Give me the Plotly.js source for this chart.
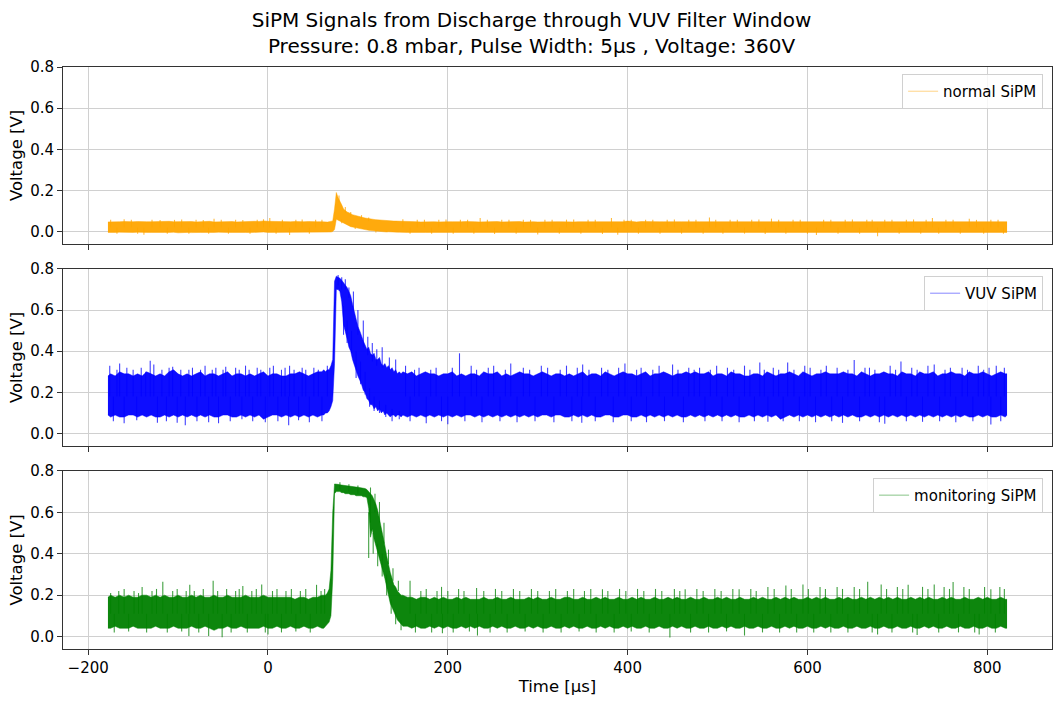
<!DOCTYPE html>
<html>
<head>
<meta charset="utf-8">
<script src="https://cdn.plot.ly/plotly-3.0.1.min.js"></script>
<style>
  html, body { margin: 0; padding: 0; background: #fff; }
  #plot { width: 1063px; height: 703px; }
</style>
</head>
<body>
<div id="plot"></div>
<script>
// sample times in microseconds (denser around the discharge pulse)
const timeUs = [
  -178,-175,-170,-165,-160,-155,-150,-145,-140,-135,
  -130,-125,-120,-115,-110,-105,-100,-95,-90,-85,
  -80,-75,-70,-65,-60,-55,-50,-45,-40,-35,
  -30,-25,-20,-15,-10,-5,0,5,10,15,
  20,25,30,35,40,45,50,55,60,62,
  64,66,68,70,72,74,76,78,80,82,
  84,86,88,90,92,94,96,98,100,102,
  104,106,108,110,112,114,116,118,120,122,
  124,126,128,130,132,134,136,138,140,142,
  144,146,148,150,155,160,165,170,175,180,
  185,190,195,200,205,210,215,220,225,230,
  235,240,245,250,255,260,265,270,275,280,
  285,290,295,300,305,310,315,320,325,330,
  335,340,345,350,355,360,365,370,375,380,
  385,390,395,400,405,410,415,420,425,430,
  435,440,445,450,455,460,465,470,475,480,
  485,490,495,500,505,510,515,520,525,530,
  535,540,545,550,555,560,565,570,575,580,
  585,590,595,600,605,610,615,620,625,630,
  635,640,645,650,655,660,665,670,675,680,
  685,690,695,700,705,710,715,720,725,730,
  735,740,745,750,755,760,765,770,775,780,
  785,790,795,800,805,810,815,820,822
];

// normal SiPM: upper / lower edge of the dense noise band [V]
const normalHi = [
  .047,.048,.046,.048,.049,.047,.048,.049,.047,.048,
  .048,.049,.047,.048,.05,.048,.049,.047,.048,.049,
  .047,.048,.048,.05,.047,.048,.049,.048,.049,.047,
  .048,.05,.048,.05,.049,.052,.05,.049,.048,.049,
  .047,.048,.049,.047,.048,.049,.047,.048,.048,.047,
  .047,.046,.048,.05,.052,.11,.19,.165,.15,.13,
  .11,.1,.095,.092,.086,.082,.08,.077,.074,.072,
  .07,.068,.066,.064,.062,.061,.06,.059,.058,.057,
  .056,.055,.055,.054,.053,.053,.052,.052,.051,.051,
  .051,.05,.05,.049,.048,.049,.048,.047,.048,.047,
  .048,.047,.049,.048,.048,.047,.048,.049,.047,.048,
  .047,.048,.048,.047,.049,.047,.048,.048,.047,.049,
  .046,.048,.048,.047,.048,.047,.049,.048,.048,.047,
  .048,.047,.048,.048,.047,.049,.048,.048,.047,.048,
  .048,.05,.048,.051,.048,.047,.049,.048,.047,.048,
  .048,.048,.049,.047,.048,.048,.047,.049,.048,.048,
  .048,.048,.047,.049,.048,.048,.049,.047,.048,.048,
  .047,.048,.048,.049,.048,.047,.048,.048,.049,.048,
  .048,.047,.048,.048,.049,.048,.048,.047,.049,.048,
  .048,.048,.048,.047,.049,.048,.047,.048,.048,.048,
  .048,.048,.049,.048,.048,.047,.049,.048,.048,.048,
  .048,.047,.048,.048,.049,.048,.048,.049,.047,.048,
  .048,.049,.048,.048,.048,.047,.049,.048,.048
];
const normalLo = [
  -.004,-.005,-.004,-.003,-.004,-.005,-.004,-.003,-.005,-.004,
  -.004,-.003,-.005,-.004,-.004,-.003,-.006,-.004,-.004,-.005,
  -.003,-.004,-.004,-.005,-.004,-.003,-.005,-.004,-.004,-.003,
  -.004,-.004,-.005,-.003,-.004,-.002,-.004,-.004,-.005,-.003,
  -.004,-.005,-.004,-.004,-.003,-.005,-.004,-.004,-.004,-.004,
  -.003,-.004,-.004,-.002,0,.01,.06,.055,.05,.045,
  .04,.035,.03,.027,.024,.022,.02,.017,.015,.013,
  .012,.01,.008,.007,.006,.005,.004,.003,.002,.001,
  0,.001,-.001,0,-.002,-.001,-.002,-.002,-.003,-.003,
  -.003,-.003,-.004,-.003,-.004,-.004,-.003,-.005,-.004,-.004,
  -.004,-.003,-.005,-.004,-.004,-.003,-.005,-.004,-.004,-.005,
  -.004,-.004,-.003,-.005,-.004,-.004,-.005,-.003,-.004,-.004,
  -.005,-.004,-.004,-.003,-.005,-.004,-.004,-.004,-.003,-.005,
  -.004,-.003,-.004,-.004,-.005,-.004,-.003,-.005,-.004,-.004,
  -.004,-.005,-.004,-.003,-.004,-.006,-.004,-.004,-.003,-.004,
  -.004,-.004,-.005,-.003,-.004,-.004,-.005,-.004,-.003,-.004,
  -.004,-.004,-.003,-.005,-.004,-.004,-.004,-.003,-.005,-.004,
  -.004,-.004,-.004,-.003,-.005,-.004,-.004,-.004,-.003,-.005,
  -.004,-.004,-.003,-.004,-.005,-.004,-.004,-.003,-.004,-.004,
  -.005,-.004,-.004,-.003,-.004,-.004,-.005,-.004,-.003,-.004,
  -.004,-.004,-.003,-.005,-.004,-.004,-.004,-.003,-.004,-.005,
  -.004,-.003,-.004,-.004,-.005,-.004,-.003,-.004,-.004,-.004,
  -.004,-.004,-.005,-.003,-.004,-.004,-.004,-.003,-.004
];
// isolated noise spikes poking out of the baseline band: [time, voltage]
const normalSpikes = [
  [-175,.058],[-168,-.01],[-160,.06],[-152,.057],[-145,-.011],[-138,-.015],[-129,.058],[-120,.056],
  [-112,-.01],[-104,.057],[-96,.059],[-88,-.011],[-80,.057],[-72,.056],[-66,-.01],[-60,.062],
  [-52,.057],[-44,-.01],[-36,.058],[-28,.056],[-20,-.011],[-12,.058],[-5,.06],[2,.066],[9,-.01],
  [16,.058],[24,-.016],[31,.057],[38,.059],[46,-.01],[53,.057],[60,.058],
  [150,.06],[158,-.011],[166,.057],[174,.058],[182,-.01],[190,.057],[198,.059],[206,-.011],
  [214,.057],[222,.058],[229,-.01],[236,.066],[244,.057],[252,-.012],[260,.058],[268,.057],
  [276,-.01],[284,.058],[292,.057],[300,-.014],[308,.058],[316,.057],[324,-.011],[332,.058],
  [340,.059],[348,-.01],[356,.057],[364,.058],[372,-.012],[382,.066],[389,-.015],[396,.058],
  [404,.057],[412,-.011],[420,.058],[428,.057],[436,-.01],[444,.058],[452,.059],[460,-.011],
  [468,.057],[476,.058],[484,-.01],[491,.069],[498,.058],[506,-.011],[514,.057],[522,.058],
  [530,-.01],[538,.057],[546,.059],[553,-.012],[560,.063],[568,.057],[576,-.01],[584,.058],
  [592,.057],[600,-.011],[610,-.016],[618,.058],[626,.057],[634,-.01],[642,.058],[650,.059],
  [658,-.011],[666,.057],[672,.058],[678,-.023],[686,.057],[694,.058],[702,-.01],[710,.057],
  [718,.059],[726,-.011],[732,.058],[739,.066],[746,-.01],[754,.057],[762,.058],[770,-.011],
  [780,.062],[788,.057],[796,-.01],[804,.058],[812,.057],[818,-.011]
];
const normalBase = 0.02;
// spikes on the pulse itself: [time, from, to]
const normalPulseSpikes = [
  [79,.14,.175],[82,.06,.04],[86,.09,.12],[92,.07,.095],[97,.03,.012],[104,.06,.08],
  [112,.05,.068],[120,.005,-.005]
];

// VUV SiPM
const vuvHi = [
  .28,.29,.28,.30,.29,.29,.28,.29,.28,.30,
  .29,.28,.29,.28,.30,.31,.29,.28,.29,.28,
  .29,.30,.28,.29,.29,.28,.29,.30,.28,.29,
  .29,.28,.29,.28,.29,.30,.28,.29,.29,.28,
  .28,.29,.29,.30,.29,.28,.29,.30,.30,.31,
  .30,.31,.31,.33,.36,.74,.765,.76,.755,.745,
  .735,.72,.71,.69,.67,.63,.59,.55,.52,.50,
  .47,.45,.43,.41,.42,.39,.38,.39,.36,.36,
  .37,.34,.33,.34,.32,.33,.31,.32,.30,.31,
  .29,.30,.29,.30,.29,.30,.28,.29,.30,.29,
  .29,.28,.29,.29,.30,.28,.29,.28,.29,.29,
  .28,.30,.29,.29,.30,.28,.29,.28,.29,.30,
  .29,.29,.28,.29,.30,.29,.28,.29,.29,.28,
  .29,.28,.29,.30,.28,.29,.29,.28,.30,.29,
  .28,.29,.30,.29,.29,.28,.29,.30,.28,.29,
  .29,.30,.29,.28,.29,.29,.30,.29,.30,.29,
  .29,.30,.28,.29,.29,.28,.30,.29,.29,.28,
  .28,.29,.29,.28,.30,.29,.28,.29,.29,.30,
  .29,.28,.30,.29,.28,.29,.29,.30,.29,.29,
  .29,.30,.29,.29,.28,.30,.29,.28,.29,.29,
  .30,.29,.29,.28,.30,.29,.29,.28,.30,.29,
  .29,.30,.28,.29,.29,.30,.29,.29,.28,.30,
  .29,.29,.30,.29,.28,.29,.30,.29,.29
];
const vuvLo = [
  .09,.08,.09,.08,.08,.09,.09,.08,.09,.08,
  .09,.08,.08,.09,.08,.09,.08,.09,.08,.09,
  .08,.09,.08,.09,.08,.08,.09,.09,.08,.08,
  .09,.08,.09,.08,.09,.07,.08,.09,.09,.08,
  .09,.08,.09,.08,.09,.08,.09,.08,.09,.09,
  .10,.10,.11,.13,.16,.34,.70,.70,.69,.64,
  .53,.50,.46,.42,.40,.36,.33,.30,.28,.26,
  .24,.21,.20,.17,.16,.14,.14,.12,.13,.11,
  .12,.10,.11,.09,.10,.09,.08,.09,.09,.08,
  .09,.09,.08,.09,.08,.09,.08,.09,.08,.09,
  .08,.09,.08,.09,.08,.09,.08,.09,.09,.08,
  .09,.08,.09,.08,.09,.08,.09,.08,.09,.08,
  .09,.08,.09,.08,.09,.09,.08,.09,.09,.08,
  .08,.09,.08,.09,.08,.09,.08,.08,.09,.09,
  .08,.08,.09,.09,.08,.08,.09,.08,.09,.08,
  .09,.08,.09,.08,.09,.08,.08,.09,.08,.09,
  .08,.09,.08,.09,.08,.09,.08,.09,.08,.08,
  .09,.08,.09,.08,.09,.08,.09,.07,.08,.09,
  .08,.09,.08,.09,.08,.09,.08,.09,.08,.09,
  .08,.09,.08,.09,.08,.08,.09,.08,.09,.08,
  .09,.08,.09,.08,.09,.08,.09,.08,.09,.08,
  .09,.08,.09,.08,.09,.08,.09,.08,.09,.08,
  .08,.09,.08,.09,.08,.08,.09,.08,.09
];
const vuvSpikes = [
  [-176,.33],[-172,.06],[-168,.31],[-165,.34],[-160,.05],[-157,.32],[-150,.31],[-146,.065],
  [-141,.32],[-136,.30],[-131,.354],[-127,.335],[-123,.053],[-118,.31],[-113,.06],[-110,.32],
  [-106,.325],[-101,.053],[-97,.31],[-92,.04],[-88,.31],[-84,.32],[-79,.06],[-75,.31],[-70,.33],
  [-66,.055],[-62,.31],[-58,.32],[-55,.05],[-50,.31],[-47,.325],[-42,.06],[-36,.32],[-32,.31],
  [-29,.07],[-25,.33],[-21,.31],[-17,.06],[-12,.32],[-8,.31],[-3,.055],[2,.32],[6,.33],[11,.06],
  [15,.31],[19,.32],[23,.04],[24,.33],[29,.31],[34,.065],[38,.32],[42,.31],[46,.055],[51,.32],
  [56,.31],[60,.06],[66,.33],
  [153,.33],[158,.06],[163,.31],[168,.32],[176,.05],[181,.31],[187,.32],[193,.06],[200,.045],
  [205,.32],[213,.39],[219,.06],[226,.33],[232,.31],[238,.055],[245,.32],[251,.33],[258,.06],
  [264,.31],[270,.34],[277,.055],[284,.32],[291,.31],[297,.06],[304,.33],[311,.32],[318,.055],
  [325,.31],[332,.33],[338,.06],[344,.32],[349,.052],[350,.335],[357,.31],[364,.06],[371,.32],
  [378,.31],[384,.055],[390,.32],[397,.34],[404,.06],[410,.31],[415,.32],[421,.055],[428,.31],
  [435,.33],[441,.06],[450,.335],[456,.31],[462,.055],[468,.32],[474,.31],[480,.32],[486,.06],
  [492,.31],[499,.33],[505,.06],[511,.32],[518,.31],[524,.055],[530,.33],[536,.31],[541,.06],
  [547,.345],[552,.31],[556,.057],[562,.32],[568,.31],[573,.06],[578,.345],[585,.31],[591,.06],
  [597,.33],[603,.32],[609,.055],[615,.31],[621,.33],[627,.06],[633,.32],[639,.052],[645,.31],
  [652,.357],[658,.06],[664,.32],[669,.32],[675,.31],[680,.055],[686,.047],[692,.33],[698,.31],
  [704,.35],[710,.06],[716,.32],[722,.31],[728,.057],[734,.33],[741,.335],[747,.06],[753,.31],
  [759,.32],[765,.055],[772,.32],[778,.31],[784,.06],[790,.33],[796,.31],[802,.32],[804,.044],
  [810,.33],[815,.06],[819,.32]
];
const vuvBase = 0.18;
const vuvPulseSpikes = [
  [78,.72,.77],[82,.70,.76],[84,.62,.48],[86,.70,.75],[88,.55,.44],[90,.66,.71],[93,.50,.39],
  [95,.60,.69],[98,.40,.27],[100,.48,.60],[103,.35,.24],[106,.42,.55],[108,.30,.19],
  [111,.38,.47],[113,.22,.13],[116,.35,.44],[118,.18,.11],[121,.33,.41],[124,.16,.10],
  [127,.32,.42],[131,.14,.08],[135,.31,.37],[138,.12,.06],[142,.30,.36],[146,.11,.07]
];

// monitoring SiPM
const monitorHi = [
  .19,.20,.19,.20,.19,.20,.19,.19,.20,.20,
  .19,.20,.19,.20,.19,.19,.20,.19,.19,.20,
  .19,.20,.19,.19,.20,.19,.19,.20,.19,.19,
  .19,.20,.19,.19,.19,.20,.19,.19,.19,.19,
  .19,.19,.18,.19,.19,.18,.19,.19,.20,.20,
  .20,.21,.23,.32,.60,.737,.737,.735,.733,.731,
  .73,.729,.728,.727,.725,.724,.723,.722,.721,.72,
  .72,.718,.715,.71,.70,.69,.68,.66,.64,.61,
  .57,.53,.49,.44,.39,.34,.31,.28,.25,.24,
  .22,.21,.20,.20,.19,.19,.18,.19,.19,.18,
  .19,.18,.19,.18,.18,.19,.18,.19,.18,.18,
  .18,.19,.18,.18,.19,.18,.18,.19,.18,.18,
  .18,.19,.18,.19,.18,.18,.19,.18,.18,.19,
  .19,.18,.18,.19,.18,.18,.19,.18,.19,.18,
  .18,.19,.18,.18,.19,.18,.19,.18,.18,.19,
  .18,.18,.19,.18,.19,.18,.18,.19,.18,.18,
  .19,.18,.18,.19,.18,.19,.18,.18,.19,.18,
  .18,.19,.18,.19,.18,.18,.19,.18,.19,.18,
  .19,.18,.18,.19,.18,.19,.18,.19,.18,.18,
  .19,.18,.19,.18,.18,.19,.18,.19,.18,.19,
  .18,.19,.18,.19,.18,.18,.19,.18,.19,.18,
  .19,.18,.18,.19,.18,.19,.18,.18,.19,.18,
  .18,.19,.18,.19,.18,.18,.19,.18,.18
];
const monitorLo = [
  .04,.04,.05,.04,.04,.04,.05,.04,.04,.04,
  .04,.05,.04,.04,.04,.05,.04,.04,.04,.05,
  .04,.04,.05,.04,.03,.04,.04,.05,.04,.04,
  .05,.04,.04,.04,.04,.05,.04,.04,.05,.04,
  .04,.05,.04,.04,.05,.04,.04,.05,.04,.04,
  .05,.06,.07,.10,.28,.69,.70,.70,.70,.695,
  .695,.69,.69,.69,.685,.685,.685,.68,.68,.68,
  .68,.675,.675,.67,.62,.48,.52,.47,.44,.41,
  .38,.35,.32,.28,.24,.20,.16,.14,.12,.10,
  .08,.07,.06,.05,.05,.04,.05,.04,.04,.05,
  .04,.05,.04,.05,.04,.04,.05,.04,.05,.04,
  .05,.04,.04,.05,.04,.05,.04,.04,.05,.04,
  .04,.05,.04,.05,.04,.04,.05,.04,.04,.05,
  .04,.05,.04,.04,.05,.04,.04,.05,.04,.05,
  .04,.04,.05,.04,.05,.04,.04,.05,.04,.04,
  .05,.04,.04,.05,.04,.05,.04,.04,.05,.04,
  .04,.05,.04,.04,.05,.04,.05,.04,.04,.05,
  .04,.04,.05,.04,.04,.05,.04,.04,.05,.04,
  .05,.04,.04,.05,.04,.04,.05,.04,.05,.04,
  .04,.05,.04,.04,.05,.04,.04,.05,.04,.04,
  .05,.04,.04,.05,.04,.04,.05,.04,.04,.05,
  .04,.05,.04,.04,.05,.04,.04,.05,.04,.04,
  .05,.04,.04,.05,.04,.04,.05,.04,.04
];
const monitorSpikes = [
  [-175,.21],[-171,.02],[-166,.22],[-160,.23],[-155,.025],[-149,.22],[-144,.21],[-140,.24],
  [-135,.02],[-129,.22],[-124,.23],[-117,.265],[-112,.02],[-106,.22],[-101,.23],[-96,.025],
  [-91,.22],[-88,.003],[-87,.25],[-82,.22],[-77,.02],[-72,.23],[-66,.003],[-61,.27],[-56,.22],
  [-51,-.003],[-46,.23],[-41,.02],[-36,.22],[-32,.23],[-28,.244],[-23,.02],[-18,.22],[-13,.23],
  [-7,.252],[-3,.02],[0,.01],[5,.22],[10,.23],[15,.02],[20,.22],[26,.23],[31,.025],[36,.22],
  [42,.23],[47,.02],[54,.25],[59,.22],[63,.23],
  [158,.27],[164,.02],[170,.22],[176,.23],[182,.02],[188,.22],[193,.24],[194,.016],[200,.22],
  [206,.02],[212,.23],[218,.22],[224,.025],[232,.235],[233,.005],[240,.22],[247,.02],[253,.23],
  [260,.22],[266,.02],[273,.23],[280,.22],[286,.025],[293,.23],[300,.22],[306,.02],[313,.22],
  [320,.23],[326,.02],[333,.22],[340,.23],[346,.025],[352,.22],[359,.23],[365,.02],[372,.228],
  [378,.22],[385,.02],[391,.23],[398,.22],[404,.025],[411,.23],[418,.22],[424,.02],[431,.23],
  [438,.22],[447,-.005],[452,.23],[458,.22],[464,.228],[470,.02],[477,.23],[484,.22],[490,.02],
  [497,.23],[504,.22],[510,.025],[517,.23],[524,.228],[530,.005],[537,.23],[543,.22],[550,.02],
  [556,.24],[563,.23],[569,.02],[576,.247],[582,.23],[588,.02],[595,.252],[601,.23],[607,.02],
  [614,.24],[620,.23],[626,.02],[633,.24],[639,.23],[645,.02],[652,.24],[658,.23],[667,.265],
  [672,.02],[678,.01],[682,.252],[688,.23],[694,.02],[700,.24],[706,.23],[712,.25],[717,.02],
  [722,.008],[728,.24],[734,.23],[741,.252],[746,.02],[752,.24],[758,.23],[762,.263],[768,.02],
  [774,.24],[780,.23],[786,.02],[791,.01],[797,.24],[804,.228],[809,.02],[814,.24],[819,.23]
];
const monitorBase = 0.11;
const monitorPulseSpikes = [
  [80,.71,.745],[90,.70,.735],[100,.69,.73],[112,.60,.38],[114,.55,.72],[117,.50,.40],
  [119,.60,.69],[122,.45,.34],[124,.55,.65],[127,.40,.29],[129,.45,.55],[132,.30,.20],
  [134,.35,.42],[137,.18,.11],[139,.27,.33],[142,.12,.06],[145,.22,.27],[148,.08,.03]
];

const yTicks = [0, 0.2, 0.4, 0.6, 0.8];
const xTicks = [-200, 0, 200, 400, 600, 800];

// one signal = spikes (underneath) + filled band between lower and upper edge
function signal(lo, hi, spikes, base, pulseSpikes, name, rgb, n) {
  const ax = n === 1 ? '' : String(n);
  const lg = n === 1 ? 'legend' : 'legend' + n;
  const sx = [], sy = [];
  spikes.forEach(s => { sx.push(s[0], s[0], null); sy.push(base, s[1], null); });
  pulseSpikes.forEach(s => { sx.push(s[0], s[0], null); sy.push(s[1], s[2], null); });
  const common = {type: 'scatter', mode: 'lines', xaxis: 'x' + ax, yaxis: 'y' + ax,
                  legend: lg, legendgroup: name, name: name, hoverinfo: 'skip'};
  return [
    Object.assign({x: sx, y: sy, showlegend: false,
                   line: {color: 'rgba(' + rgb + ',0.75)', width: 1.1}}, common),
    Object.assign({x: timeUs, y: lo,
                   line: {color: 'rgba(' + rgb + ',0.6)', width: 0.8}}, common),
    Object.assign({x: timeUs, y: hi, showlegend: false, fill: 'tonexty',
                   fillcolor: 'rgba(' + rgb + ',0.95)',
                   line: {color: 'rgba(' + rgb + ',0.6)', width: 0.8}}, common)
  ];
}

const data = [].concat(
  signal(normalLo, normalHi, normalSpikes, normalBase, normalPulseSpikes, 'normal SiPM', '255,165,0', 1),
  signal(vuvLo, vuvHi, vuvSpikes, vuvBase, vuvPulseSpikes, 'VUV SiPM', '0,0,255', 2),
  signal(monitorLo, monitorHi, monitorSpikes, monitorBase, monitorPulseSpikes, 'monitoring SiPM', '0,128,0', 3)
);

const fam = 'DejaVu Sans, sans-serif';
const tickFont = {family: fam, size: 15, color: '#000'};

function xAxis(anchor, labels) {
  const a = {
    anchor: anchor, range: [-228, 872], tickvals: xTicks,
    showticklabels: labels, ticks: 'outside', ticklen: 5, tickcolor: '#333',
    showline: true, mirror: true, linecolor: '#333', linewidth: 1,
    showgrid: true, gridcolor: '#d0d0d0', gridwidth: 1, zeroline: false,
    tickfont: tickFont
  };
  if (labels) a.title = {text: 'Time [µs]', font: {family: fam, size: 16.5, color: '#000'}, standoff: 4};
  return a;
}

function yAxis(anchor, domain) {
  return {
    anchor: anchor, domain: domain, range: [-0.06, 0.8], tickvals: yTicks,
    tickformat: '.1f', ticks: 'outside', ticklen: 5, tickcolor: '#333',
    showline: true, mirror: true, linecolor: '#333', linewidth: 1,
    showgrid: true, gridcolor: '#d0d0d0', gridwidth: 1, zeroline: false,
    tickfont: tickFont,
    title: {text: 'Voltage [V]', font: {family: fam, size: 16.5, color: '#000'}, standoff: 3}
  };
}

function legendAt(y) {
  return {
    x: 0.991, y: y, xanchor: 'right', yanchor: 'top',
    bgcolor: 'rgba(255,255,255,0.8)', bordercolor: '#d0d0d0', borderwidth: 1,
    font: {family: fam, size: 15, color: '#000'}
  };
}

const layout = {
  width: 1063, height: 703,
  margin: {l: 63, r: 11, t: 67, b: 54},
  paper_bgcolor: '#fff', plot_bgcolor: '#fff',
  font: {family: fam, size: 15, color: '#000'},
  title: {
    text: 'SiPM Signals from Discharge through VUV Filter Window<br>Pressure: 0.8 mbar, Pulse Width: 5µs , Voltage: 360V',
    font: {family: fam, size: 20, color: '#000'}, x: 0.5, xanchor: 'center',
    y: 0.962, yref: 'container', yanchor: 'middle'
  },
  xaxis: xAxis('y', false),
  xaxis2: xAxis('y2', false),
  xaxis3: xAxis('y3', true),
  yaxis: yAxis('x', [0.696, 1]),
  yaxis2: yAxis('x2', [0.349, 0.653]),
  yaxis3: yAxis('x3', [0, 0.306]),
  legend: legendAt(0.988),
  legend2: legendAt(0.641),
  legend3: legendAt(0.294),
  showlegend: true
};

Plotly.newPlot('plot', data, layout, {displayModeBar: false, staticPlot: true});
</script>
</body>
</html>
